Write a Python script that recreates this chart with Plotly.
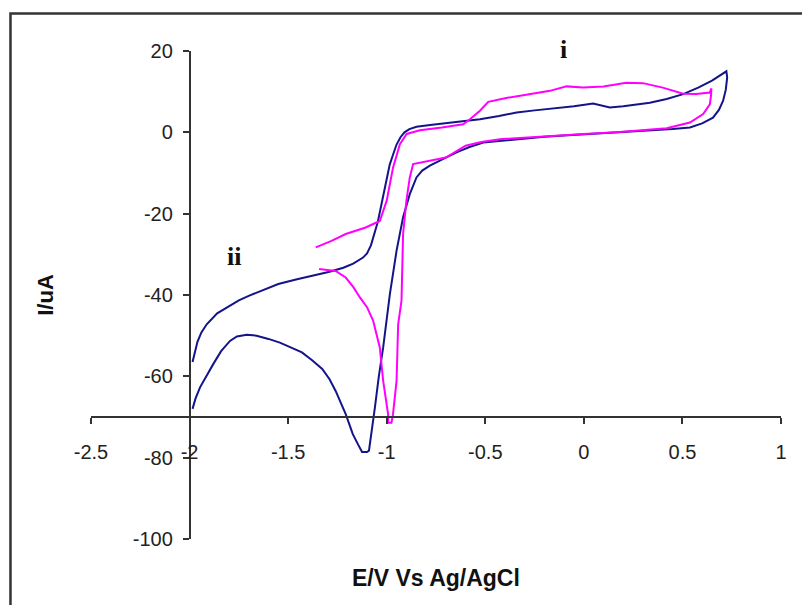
import plotly.graph_objects as go

# ---- data ----
navy_x = [-1.985, -1.96, -1.94, -1.913, -1.86, -1.795, -1.75, -1.70, -1.626, -1.55, -1.46, -1.38,
          -1.29, -1.22, -1.17, -1.12, -1.10, -1.08, -1.06, -1.045, -1.03, -1.015, -1.0, -0.985,
          -0.968, -0.95, -0.93, -0.91, -0.885, -0.849, -0.78, -0.70, -0.60, -0.527, -0.43, -0.341,
          -0.25, -0.15, -0.05, 0.047, 0.09, 0.132, 0.20, 0.335, 0.42, 0.504, 0.58, 0.65, 0.723,
          0.727, 0.72, 0.706, 0.685, 0.655, 0.60, 0.538, 0.45, 0.335, 0.20, 0.10, -0.004, -0.10,
          -0.20, -0.341, -0.43, -0.51, -0.58, -0.64, -0.70, -0.781, -0.82, -0.849, -0.883, -0.917,
          -0.95, -0.984, -1.018, -1.04, -1.06, -1.075, -1.09, -1.10, -1.125, -1.145, -1.172,
          -1.208, -1.259, -1.29, -1.327, -1.38, -1.43, -1.49, -1.542, -1.60, -1.66, -1.71, -1.76,
          -1.795, -1.84, -1.88, -1.915, -1.947, -1.97, -1.985]
navy_y = [-56.5, -51.5, -49.2, -47.2, -44.5, -42.5, -41.3, -40.2, -38.8, -37.3, -36.2, -35.3,
          -34.3, -33.3, -32.3, -30.8, -29.8, -27.8, -24.8, -22.0, -18.5, -15.0, -11.5, -8.0,
          -5.5, -3.0, -1.2, 0.0, 0.8, 1.35, 1.8, 2.2, 2.7, 3.2, 4.0, 4.9,
          5.4, 5.9, 6.4, 7.1, 6.6, 6.1, 6.4, 7.3, 8.2, 9.4, 11.0, 12.7, 15.0,
          13.5, 10.5, 7.7, 5.5, 3.6, 2.2, 1.2, 0.8, 0.5, 0.1, -0.2, -0.45, -0.8,
          -1.1, -1.7, -2.1, -2.5, -3.6, -4.8, -6.2, -8.2, -9.4, -11.1, -15.2, -20.9,
          -29.1, -39.8, -52.9, -60.0, -67.7, -73.5, -78.3, -78.6, -78.6, -76.8, -74.2,
          -69.3, -63.6, -60.7, -58.2, -56.0, -54.1, -52.8, -51.7, -50.8, -50.0, -49.8, -50.2,
          -51.3, -53.8, -57.0, -60.0, -62.7, -65.5, -68.0]

mag_x = [-1.36, -1.28, -1.208, -1.107, -1.035, -1.0, -0.968, -0.933, -0.899, -0.832, -0.72, -0.612,
         -0.578, -0.527, -0.485, -0.40, -0.30, -0.172, -0.088, -0.004, 0.10, 0.215, 0.30, 0.40,
         0.504, 0.57, 0.639, 0.647,
         0.645, 0.639, 0.605, 0.538, 0.42, 0.30, 0.166, 0.0, -0.172, -0.30, -0.426, -0.52, -0.60,
         -0.70, -0.78, -0.832, -0.866, -0.883, -0.90, -0.917, -0.925, -0.942, -0.95, -0.968,
         -0.976, -0.993, -0.993, -1.018, -1.035, -1.069, -1.10, -1.136, -1.17, -1.208, -1.259,
         -1.343]
mag_y = [-28.3, -26.7, -25.0, -23.4, -21.8, -16.8, -8.7, -2.9, -0.4, 0.5, 1.2, 2.0,
         3.2, 5.3, 7.5, 8.4, 9.2, 10.2, 11.3, 11.0, 11.3, 12.2, 12.1, 11.0,
         9.5, 9.4, 9.8, 10.8,
         9.0, 6.9, 4.5, 2.4, 1.0, 0.5, 0.0, -0.4, -0.9, -1.2, -1.7, -2.4, -3.3,
         -6.2, -7.0, -7.4, -7.8, -11.1, -16.8, -25.0, -41.4, -47.2, -61.1, -69.3,
         -71.4, -71.4, -69.3, -61.1, -52.9, -46.3, -43.0, -40.6, -38.0, -35.7, -34.1,
         -33.6]

x_ticks = [-2.5, -2, -1.5, -1, -0.5, 0, 0.5, 1]
x_ticktext = ["-2.5", "-2", "-1.5", "-1", "-0.5", "0", "0.5", "1"]
y_ticks = [-100, -80, -60, -40, -20, 0, 20]
y_ticktext = ["-100", "-80", "-60", "-40", "-20", "0", "20"]

x_range = [-2.5, 1]
y_range = [-100, 20]
x_cross = -70   # horizontal axis crosses the vertical axis at this current
y_cross = -2    # vertical axis crosses at this potential

labels = [("i", -0.105, 19.9, 2), ("ii", -1.775, -30.5, 0)]

# ---- figure ----
fig = go.Figure()
fig.add_trace(go.Scatter(x=navy_x, y=navy_y, mode="lines",
                         line=dict(color="#14148a", width=2), showlegend=False))
fig.add_trace(go.Scatter(x=mag_x, y=mag_y, mode="lines",
                         line=dict(color="#ff00ff", width=2), showlegend=False))

tickfont = dict(family="Liberation Sans, Arial, sans-serif", size=20, color="#222222")
xpos = (x_cross - y_range[0]) / (y_range[1] - y_range[0])
ypos = (y_cross - x_range[0]) / (x_range[1] - x_range[0])

fig.update_layout(
    width=802, height=597,
    margin=dict(l=83, r=29, t=43, b=66),
    paper_bgcolor="white", plot_bgcolor="white",
    xaxis=dict(range=x_range, tickvals=x_ticks, ticktext=x_ticktext,
               showgrid=False, zeroline=False, showline=True, linecolor="#333333",
               linewidth=1.5, ticks="outside", ticklen=6, tickwidth=1.5, tickcolor="#333333",
               anchor="free", position=xpos, tickfont=tickfont, ticklabelstandoff=11),
    yaxis=dict(range=y_range, tickvals=y_ticks, ticktext=y_ticktext,
               showgrid=False, zeroline=False, showline=True, linecolor="#333333",
               linewidth=1.5, ticks="outside", ticklen=6, tickwidth=1.5, tickcolor="#333333",
               anchor="free", position=ypos, tickfont=tickfont, ticklabelstandoff=6),
)

for txt, ax_, ay_, shift in labels:
    fig.add_annotation(x=ax_, y=ay_, text="<b>" + txt + "</b>", showarrow=False, yshift=shift,
                       font=dict(family="Liberation Serif, Times New Roman, serif",
                                 size=26, color="#111111"), xanchor="center", yanchor="middle")

fig.add_annotation(xref="paper", yref="paper", x=0.5, y=-0.08, text="<b>E/V Vs Ag/AgCl</b>",
                   showarrow=False, xanchor="center", yanchor="middle",
                   font=dict(family="Liberation Sans, Arial, sans-serif", size=23, color="#111111"))
fig.add_annotation(xref="paper", yref="paper", x=-0.067, y=0.5, text="<b>I/uA</b>",
                   showarrow=False, xanchor="center", yanchor="middle", textangle=-90,
                   font=dict(family="Liberation Sans, Arial, sans-serif", size=22, color="#111111"))

# chart-area border
fig.add_shape(type="rect", xref="paper", yref="paper",
              x0=-0.1167, y0=-0.2, x1=1.08, y1=1.0768,
              line=dict(color="#333333", width=2.5), layer="below")

fig.write_html("out.html")
